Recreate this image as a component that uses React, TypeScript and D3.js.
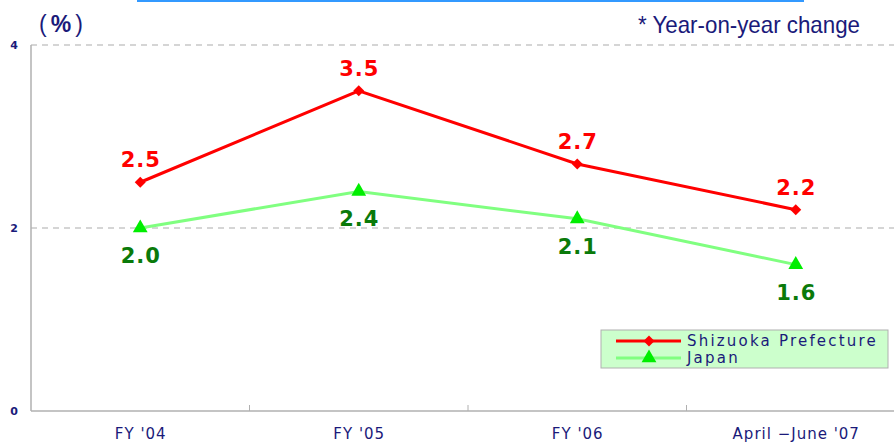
import React from "react";
import * as d3 from "d3";

const categories = ["FY '04", "FY '05", "FY '06", "April \u2212June '07"];
const shizuoka = [2.5, 3.5, 2.7, 2.2];
const japan = [2.0, 2.4, 2.1, 1.6];
const yTicks = [0, 2, 4];
const seriesNames = ["Shizuoka Prefecture", "Japan"];

const W = 894;
const H = 443;
const NAVY = "#1a1a7a";
const FONT = "'Liberation Sans', Arial, sans-serif";
const WIDE = "'DejaVu Sans', Verdana, sans-serif";
const LABEL_SPACING = 1;

export default function App() {
  const x = d3.scaleBand<string>().domain(categories).range([31, 905]).padding(0);
  const y = d3.scaleLinear().domain([0, 4]).range([411, 45]);
  const cx = (c: string) => (x(c) as number) + x.bandwidth() / 2;

  const line = d3
    .line<number>()
    .x((_, i) => cx(categories[i]))
    .y((d) => y(d));

  const diamond = d3.symbol().type(d3.symbolSquare).size(60)() as string;
  const triangle = d3.symbol().type(d3.symbolTriangle).size(95)() as string;

  const boundaries = categories.slice(1).map((c) => x(c) as number);

  return (
    <svg
      width={W}
      height={H}
      style={{ position: "absolute", left: 0, top: 0, background: "#fff" }}
      fontFamily={FONT}
    >
      {/* top rule */}
      <line x1={137} x2={804} y1={1} y2={1} stroke="#3399ff" strokeWidth={2} />

      {/* unit and note */}
      <text x={39} y={32} fontSize={23} fill={NAVY}>
        <tspan>(</tspan>
        <tspan dx={4} fontWeight="bold">%</tspan>
        <tspan dx={4}>)</tspan>
      </text>
      <text
        x={638}
        y={33}
        fontSize={24}
        fill={NAVY}
        textLength={222}
        lengthAdjust="spacingAndGlyphs"
      >
        * Year-on-year change
      </text>

      {/* gridlines */}
      {yTicks
        .filter((t) => t > 0)
        .map((t) => (
          <line
            key={t}
            x1={31}
            x2={W}
            y1={y(t)}
            y2={y(t)}
            stroke="#c8c8c8"
            strokeWidth={1.5}
            strokeDasharray="6 5"
          />
        ))}

      {/* axes */}
      <line x1={31} x2={31} y1={y(4)} y2={y(0)} stroke="#b0b0b0" strokeWidth={1.5} />
      <line x1={31} x2={W} y1={y(0)} y2={y(0)} stroke="#b0b0b0" strokeWidth={1.5} />
      {boundaries.map((b, i) => (
        <line key={i} x1={b} x2={b} y1={y(0) - 6} y2={y(0)} stroke="#b0b0b0" strokeWidth={1} />
      ))}

      {yTicks.map((t) => (
        <text
          key={t}
          x={14}
          y={y(t) + 4}
          fontSize={11}
          fontWeight="bold"
          fill={NAVY}
          textAnchor="middle"
          fontFamily={WIDE}
        >
          {t}
        </text>
      ))}
      {categories.map((c) => (
        <text
          key={c}
          x={cx(c) + 0.5}
          y={439}
          fontSize={15}
          fill={NAVY}
          textAnchor="middle"
          letterSpacing={1}
          fontFamily={WIDE}
        >
          {c}
        </text>
      ))}

      {/* Japan series */}
      <path d={line(japan) as string} fill="none" stroke="#80ff80" strokeWidth={3} />
      {japan.map((v, i) => (
        <g key={i}>
          <path
            d={triangle}
            transform={`translate(${cx(categories[i])},${y(v)})`}
            fill="#00ee00"
          />
          <text
            x={cx(categories[i]) + LABEL_SPACING / 2}
            y={y(v) + 35}
            fontSize={21}
            fontWeight="bold"
            fill="#0a7a0a"
            textAnchor="middle"
            letterSpacing={LABEL_SPACING}
            fontFamily={WIDE}
          >
            {v.toFixed(1)}
          </text>
        </g>
      ))}

      {/* Shizuoka series */}
      <path d={line(shizuoka) as string} fill="none" stroke="#ff0000" strokeWidth={3} />
      {shizuoka.map((v, i) => (
        <g key={i}>
          <path
            d={diamond}
            transform={`translate(${cx(categories[i])},${y(v)}) rotate(45)`}
            fill="#ff0000"
          />
          <text
            x={cx(categories[i]) + LABEL_SPACING / 2}
            y={y(v) - 15}
            fontSize={21}
            fontWeight="bold"
            fill="#ff0000"
            textAnchor="middle"
            letterSpacing={LABEL_SPACING}
            fontFamily={WIDE}
          >
            {v.toFixed(1)}
          </text>
        </g>
      ))}

      {/* legend */}
      <g transform="translate(601,330)">
        <rect x={0} y={0} width={287} height={38} fill="#ccffcc" stroke="#b0b0b0" strokeWidth={1} />
        <line x1={15} x2={80} y1={11} y2={11} stroke="#ff0000" strokeWidth={3} />
        <path d={diamond} transform="translate(48,11) rotate(45)" fill="#ff0000" />
        <line x1={15} x2={80} y1={28} y2={28} stroke="#80ff80" strokeWidth={3} />
        <path d={triangle} transform="translate(48,28)" fill="#00ee00" />
        <text x={86} y={16} fontSize={15} fill={NAVY} letterSpacing={2.2} fontFamily={WIDE}>
          {seriesNames[0]}
        </text>
        <text x={86} y={33} fontSize={15} fill={NAVY} letterSpacing={2.2} fontFamily={WIDE}>
          {seriesNames[1]}
        </text>
      </g>
    </svg>
  );
}
